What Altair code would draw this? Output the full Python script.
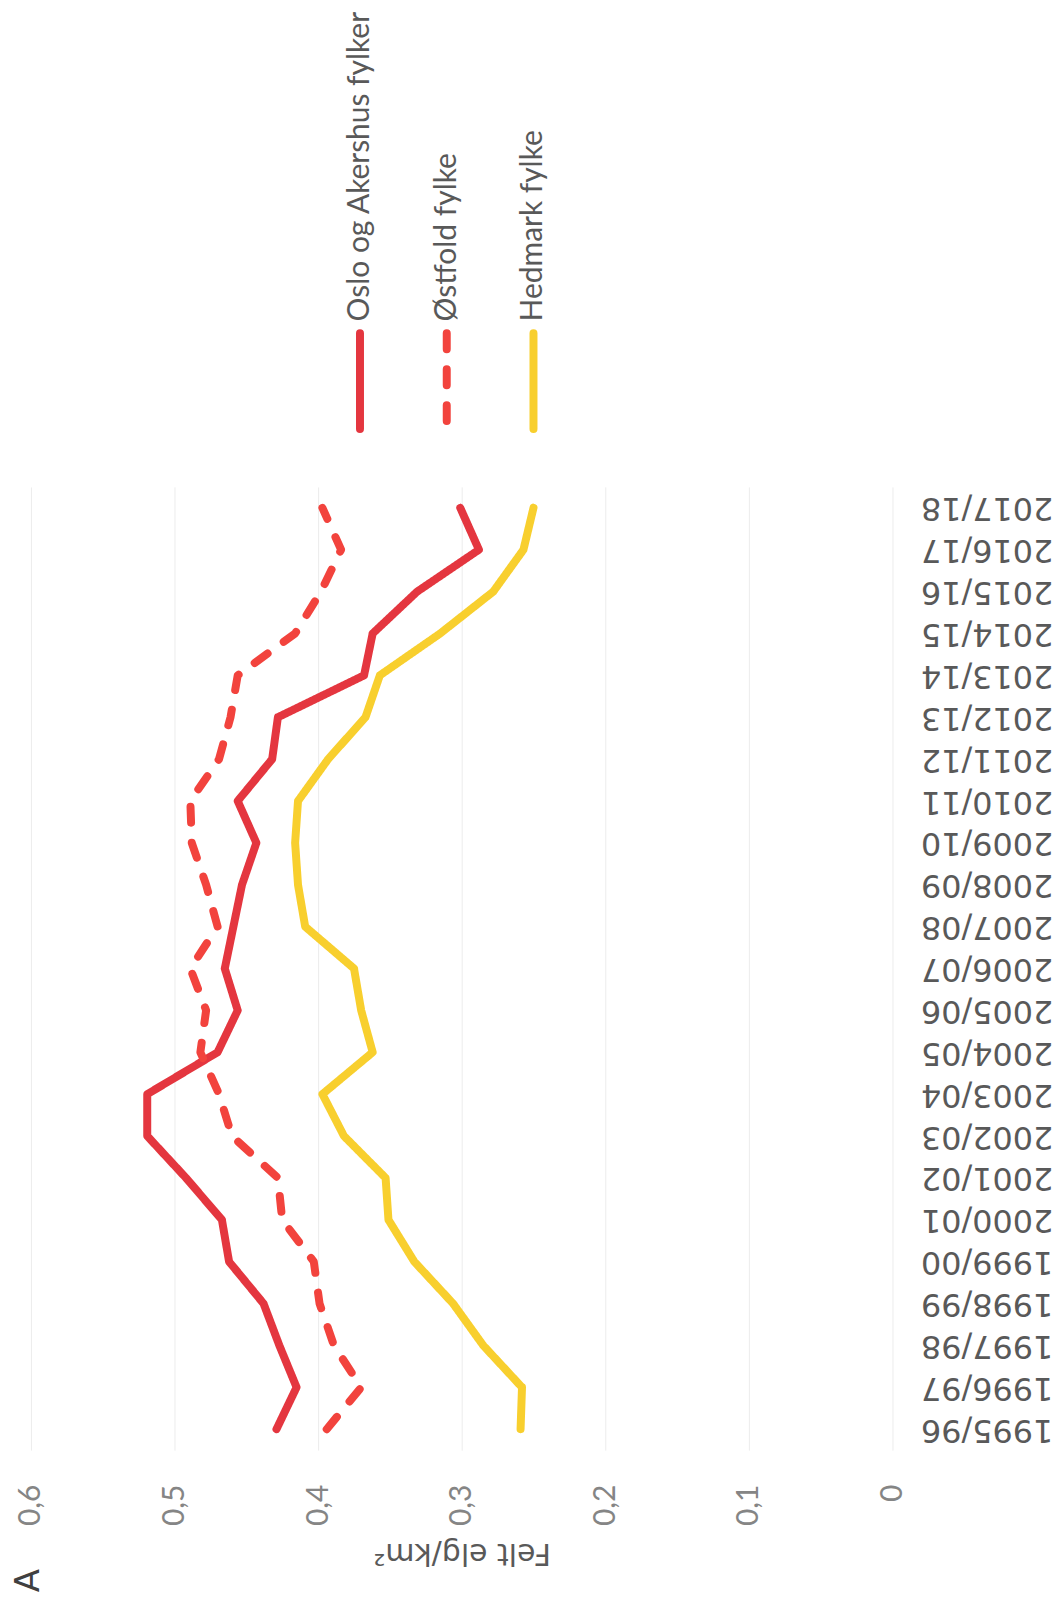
import altair as alt
import pandas as pd

# ---- data ----
years = ["1995/96", "1996/97", "1997/98", "1998/99", "1999/00", "2000/01", "2001/02",
         "2002/03", "2003/04", "2004/05", "2005/06", "2006/07", "2007/08", "2008/09",
         "2009/10", "2010/11", "2011/12", "2012/13", "2013/14", "2014/15", "2015/16",
         "2016/17", "2017/18"]
oslo = [0.429, 0.415, 0.427, 0.438, 0.462, 0.467, 0.492, 0.519, 0.519, 0.470, 0.456,
        0.465, 0.459, 0.453, 0.443, 0.456, 0.432, 0.428, 0.368, 0.362, 0.331, 0.288, 0.301]
ostfold = [0.394, 0.370, 0.389, 0.399, 0.403, 0.425, 0.428, 0.460, 0.469, 0.482, 0.478,
           0.489, 0.470, 0.478, 0.488, 0.489, 0.469, 0.461, 0.456, 0.416, 0.398, 0.384, 0.397]
hedmark = [0.259, 0.258, 0.285, 0.306, 0.333, 0.351, 0.353, 0.382, 0.397, 0.362, 0.370,
           0.375, 0.409, 0.414, 0.416, 0.414, 0.393, 0.367, 0.357, 0.315, 0.278, 0.257, 0.250]
series = ["Oslo og Akershus fylker", "Østfold fylke", "Hedmark fylke"]
value_ticks = [0, 0.1, 0.2, 0.3, 0.4, 0.5, 0.6]

# ---- styles ----
colors = ["#e4363f", "#f2433d", "#f8cf2e"]
dashes = [[1, 0], [16, 20], [1, 0]]

rows = []
for s, vals in zip(series, [oslo, ostfold, hedmark]):
    for i, (yr, v) in enumerate(zip(years, vals)):
        rows.append({"serie": s, "sesong": yr, "felt": v, "idx": i})
df = pd.DataFrame(rows)

color_scale = alt.Scale(domain=series, range=colors)
dash_scale = alt.Scale(domain=series, range=dashes)

lines = alt.Chart(df).mark_line(strokeWidth=8, strokeCap="round", strokeJoin="round").encode(
    x=alt.X("felt:Q",
            scale=alt.Scale(domain=[0, 0.6], reverse=True, nice=False),
            axis=alt.Axis(values=value_ticks, title="Felt elg/km²",
                          labelExpr="datum.value == 0 ? '0' : replace(format(datum.value, '.1f'), '.', ',')",
                          labelAngle=270, labelAlign="right", labelBaseline="middle",
                          labelPadding=34, ticks=False, tickSize=0, domain=False,
                          grid=True, gridColor="#ececec", gridWidth=1,
                          labelFont="Lato", labelFontSize=30, labelColor="#858585",
                          titleFont="DejaVu Sans", titleFontSize=30, titleFontWeight="normal",
                          titleColor="#595959", titleAngle=180, titleBaseline="bottom",
                          titlePadding=12)),
    y=alt.Y("sesong:O", sort=years[::-1],
            scale=alt.Scale(type="point", padding=0.5),
            axis=alt.Axis(orient="right", title=None, labelAngle=180, labelAlign="right",
                          labelBaseline="middle", labelPadding=28, ticks=False, tickSize=0,
                          domain=False, grid=False, labelFont="DejaVu Sans", labelFontSize=32,
                          labelColor="#595959", labelOverlap=False)),
    color=alt.Color("serie:N", scale=color_scale, legend=None),
    strokeDash=alt.StrokeDash("serie:N", scale=dash_scale, legend=None),
    detail="serie:N",
    order=alt.Order("idx:Q"),
)

panel_letter = alt.Chart(pd.DataFrame({"t": ["A"]})).mark_text(
    angle=270, fontSize=34, font="DejaVu Sans", color="#404040", align="center", baseline="middle"
).encode(text="t:N", x=alt.value(-2), y=alt.value(1097))

main = alt.layer(lines, panel_letter).properties(width=864, height=966)

leg_df = pd.DataFrame({"serie": series})
leg_x = alt.X("serie:N", sort=series, scale=alt.Scale(type="point", range=[330, 504], padding=0), axis=None)

leg_rules = alt.Chart(leg_df).mark_rule(strokeWidth=8, strokeCap="round").encode(
    x=leg_x, y=alt.value(324), y2=alt.value(420),
    color=alt.Color("serie:N", scale=color_scale, legend=None),
    strokeDash=alt.StrokeDash("serie:N", scale=dash_scale, legend=None),
)
leg_text = alt.Chart(leg_df).mark_text(
    angle=270, align="left", baseline="middle", font="Lato", fontSize=30, color="#595959"
).encode(x=leg_x, y=alt.value(312), text="serie:N")

legend = alt.layer(leg_rules, leg_text).properties(width=864, height=440)

chart = alt.vconcat(legend, main, spacing=38).resolve_scale(
    x="independent", y="independent"
).properties(
    padding={"left": 4, "top": 0, "right": 0, "bottom": 0},
    background="white",
).configure_view(stroke=None)

chart.save("out.html", embed_options={"renderer": "svg", "actions": False})
